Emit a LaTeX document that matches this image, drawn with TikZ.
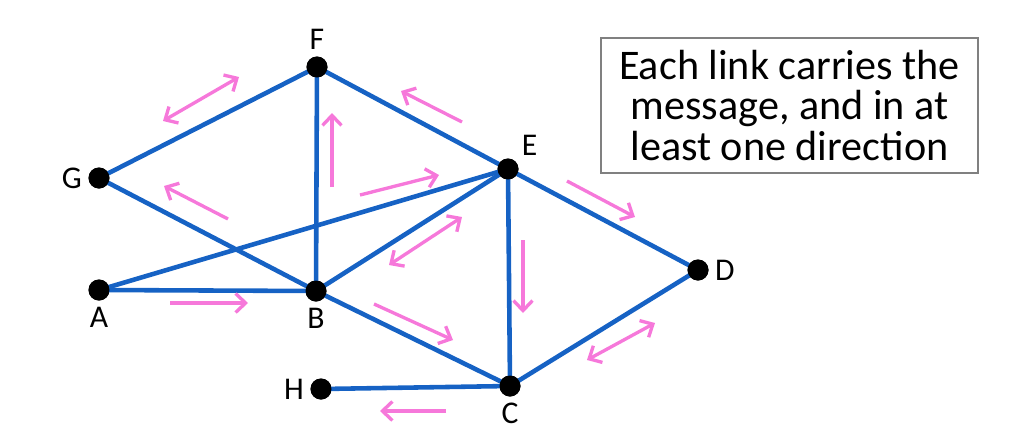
\documentclass[tikz,border=0pt]{standalone}
\usepackage{fontspec}
\setmainfont{Carlito}
\usetikzlibrary{arrows.meta}
\definecolor{linkblue}{RGB}{22,98,196}
\definecolor{msgpink}{RGB}{246,120,218}
\tikzset{
  router/.style={circle, fill=black, inner sep=0pt, minimum size=0.42cm},
  link/.style={draw=linkblue, line width=2.6pt},
  msg/.style={draw=msgpink, line width=1.9pt, -{Straight Barb[length=0.2cm, width=0.38cm]}},
  msgboth/.style={msg, {Straight Barb[length=0.2cm, width=0.38cm]}-{Straight Barb[length=0.2cm, width=0.38cm]}},
  lbl/.style={font=\fontsize{18}{20}\selectfont}
}

\begin{document}
\begin{tikzpicture}[x=0.02cm, y=-0.02cm]
\useasboundingbox (0,0) rectangle (1022,444);
% routers
\node[router, label={[lbl]above:F}] (F) at (317,67) {};
\node[router, label={[lbl]left:G}] (G) at (99,178) {};
\node[router, label={[lbl]above right:E}] (E) at (508,169) {};
\node[router, label={[lbl]below:A}] (A) at (99,290) {};
\node[router, label={[lbl]below:B}] (B) at (316,291) {};
\node[router, label={[lbl]right:D}] (D) at (698,270) {};
\node[router, label={[lbl]left:H}] (H) at (321,389) {};
\node[router, label={[lbl]below:C}] (C) at (510,386) {};
% links
\draw[link] (G.center) -- (F.center);
\draw[link] (F.center) -- (E.center);
\draw[link] (G.center) -- (B.center);
\draw[link] (F.center) -- (B.center);
\draw[link] (A.center) -- (E.center);
\draw[link] (A.center) -- (B.center);
\draw[link] (B.center) -- (E.center);
\draw[link] (E.center) -- (D.center);
\draw[link] (E.center) -- (C.center);
\draw[link] (B.center) -- (C.center);
\draw[link] (C.center) -- (D.center);
\draw[link] (H.center) -- (C.center);
% redraw dots on top
\foreach \r in {F,G,E,A,B,D,H,C}
  \fill (\r) circle (0.21cm);
% message directions
\draw[msgboth] (163,121) -- (239,77);
\draw[msg] (462,122) -- (401,91);
\draw[msg] (228,219) -- (164,186);
\draw[msg] (332,187) -- (332,113);
\draw[msg] (360,195) -- (439,175);
\draw[msgboth] (389,265) -- (462,217);
\draw[msg] (567,181) -- (635,217);
\draw[msg] (523,240) -- (523,313);
\draw[msg] (170,303) -- (248,303);
\draw[msg] (374,304) -- (453,340);
\draw[msgboth] (587,360) -- (655,323);
\draw[msg] (446,411) -- (380,411);
% note
\node[draw=gray, line width=0.8pt, minimum width=377*0.02cm, minimum height=135*0.02cm,
  align=center, font=\fontsize{24}{23}\selectfont] (note) at (789.5,105.5)
  {Each link carries the\\message, and in at\\least one direction};
\end{tikzpicture}
\end{document}
